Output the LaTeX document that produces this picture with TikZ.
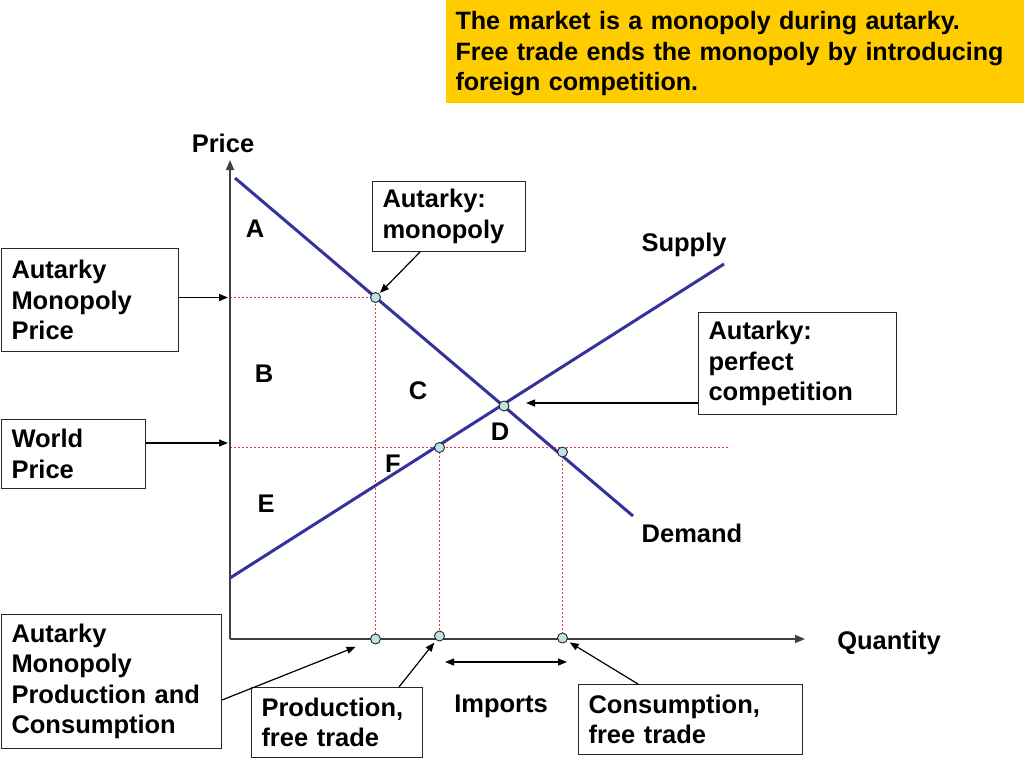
\documentclass[tikz,border=0pt]{standalone}
\usepackage{fontspec}
\setmainfont{Liberation Sans}
\usetikzlibrary{arrows.meta,calc}
\definecolor{navy}{HTML}{333399}
\definecolor{gold}{HTML}{FFCC00}
\definecolor{dotred}{HTML}{F03040}
\definecolor{ptfill}{HTML}{BFE3E3}
\definecolor{axisgray}{HTML}{404040}
\begin{document}
\begin{tikzpicture}[x=1pt,y=-1pt,
  every node/.style={font=\fontsize{25.5}{30.5}\selectfont\bfseries},
  box/.style={draw=black!85, line width=1pt, fill=white, anchor=north west,
              inner xsep=10pt, inner ysep=0pt, align=left},
  lbl/.style={inner sep=0pt},
  pt/.style={circle, draw=black!85, fill=ptfill, line width=0.9pt,
             minimum size=10pt, inner sep=0pt},
  arr/.style={-{Triangle[length=9pt,width=7pt]}, line width=1.2pt},
  darr/.style={{Triangle[length=9pt,width=7pt]}-{Triangle[length=9pt,width=7pt]}, line width=1.2pt},
  axisline/.style={-{Triangle[length=10pt,width=8pt]}, line width=1.6pt, draw=axisgray},
  curve/.style={line width=3pt, draw=navy},
  guide/.style={draw=dotred, line width=1.2pt, dash pattern=on 2pt off 2pt}]
\useasboundingbox (0,0) rectangle (1024,768);

% title
\node[box, draw=none, fill=gold, text width=559pt, minimum height=102pt,
      font=\fontsize{25.1}{30.5}\selectfont\bfseries] (title) at (445,0)
  {\rule{0pt}{23pt}The market is a monopoly during autarky.\\Free trade ends the monopoly by introducing\\foreign competition.};

% coordinates
\coordinate (origin) at (230,639);
\coordinate (ytop) at (230,160);
\coordinate (xend) at (805,639);
\coordinate (axM) at (230,297.5);
\coordinate (axW) at (230,447.5);
\coordinate (wpEnd) at (729,447.5);
\coordinate (dTop) at (235,178);
\coordinate (dBot) at (633,516);
\coordinate (sBot) at (230,578);
\coordinate (sTop) at (724,264);
\coordinate (pEtip) at (526,403);
\coordinate (wpTip) at (228,443);
\coordinate (imL) at (445,662);
\coordinate (imR) at (567,662);
\coordinate (cM) at (375.5,297.5);
\coordinate (cF) at (439.5,447.5);
\coordinate (cC) at (562.5,452);
\coordinate (cqM) at (375.5,639);
\coordinate (cqF) at (439.5,636);
\coordinate (cqC) at (562.5,638);

% guide lines
\draw[guide] (axM) -- (cM) -- (cqM);
\draw[guide] (axW) -- (wpEnd);
\draw[guide] (cF) -- (cqF);
\draw[guide] (cC) -- (cqC);

% curves
\draw[curve] (dTop) -- (dBot);
\draw[curve] (sBot) -- (sTop);

% axes
\draw[axisline] (origin) -- (ytop);
\draw[axisline] (origin) -- (xend);

% points
\node[pt] (pM) at (cM) {};
\node[pt] (pE) at (504,406) {};
\node[pt] (pF) at (cF) {};
\node[pt] (pC) at (cC) {};
\node[pt] (qM) at (cqM) {};
\node[pt] (qF) at (cqF) {};
\node[pt] (qC) at (cqC) {};

% labels
\node[lbl] (price) at (223,143) {Price};
\node[lbl] (qty) at (889,643) {Quantity};
\node[lbl] (supply) at (684,245) {Supply};
\node[lbl] (demand) at (692,533) {Demand};
\node[lbl] (imports) at (501,706) {Imports};
\node[lbl] (lA) at (255,229) {A};
\node[lbl] (lB) at (264,374) {B};
\node[lbl] (lC) at (418,391) {C};
\node[lbl] (lD) at (500,432) {D};
\node[lbl] (lF) at (393,464) {F};
\node[lbl] (lE) at (266,504) {E};

% boxes
\node[box, text width=133pt, minimum height=70pt] (mono) at (372,181) {Autarky:\\monopoly};
\node[box, text width=157pt, minimum height=103pt] (mprice) at (1,248) {Autarky\\Monopoly\\Price};
\node[box, text width=178pt, minimum height=102pt] (pc) at (698,312) {Autarky:\\perfect\\competition};
\node[box, text width=124pt, minimum height=69pt] (wp) at (1,419) {World\\Price};
\node[box, text width=200pt, minimum height=134pt] (amp) at (1,614) {Autarky\\Monopoly\\Production and\\Consumption};
\node[box, text width=151pt, minimum height=70pt] (pft) at (251,687) {Production,\\free trade};
\node[box, text width=204pt, minimum height=70pt] (cft) at (578,684) {Consumption,\\free trade};

% connectors
\draw[arr, shorten >=1pt] ($(mono.south west)+(48,0)$) -- (pM);
\draw[arr, shorten >=2pt] (mprice.east |- axM) -- (axM);
\draw[arr] (pc.south west |- pEtip) -- (pEtip);
\draw[arr] (wp.east |- wpTip) -- (wpTip);
\draw[arr, shorten >=16pt] ($(amp.north east)+(0,86)$) -- (qM);
\draw[arr, shorten >=3pt] ($(pft.north west)+(148,0)$) -- (qF);
\draw[arr, shorten >=3pt] ($(cft.north west)+(60,0)$) -- (qC);
\draw[darr] (imL) -- (imR);
\end{tikzpicture}
\end{document}
